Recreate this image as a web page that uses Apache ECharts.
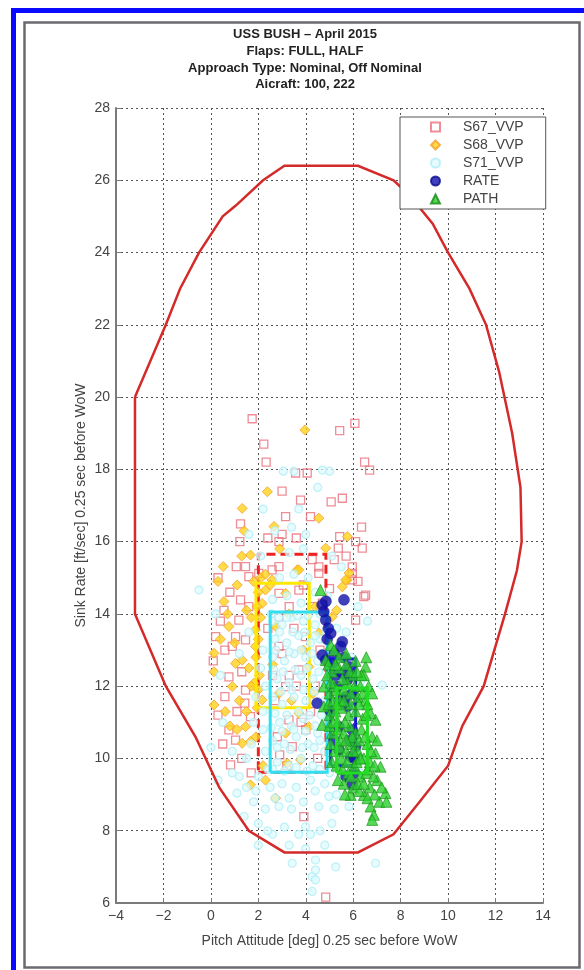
<!DOCTYPE html>
<html>
<head>
<meta charset="utf-8">
<script src="https://cdn.jsdelivr.net/npm/echarts@6/dist/echarts.min.js"></script>
<style>
html,body{margin:0;padding:0;background:#fff;}
#chart{width:584px;height:970px;}
</style>
</head>
<body>
<div id="chart"></div>
<script>
// ---- Data ----
const titleLines = ['USS BUSH \u2013 April 2015', 'Flaps: FULL, HALF', 'Approach Type: Nominal, Off Nominal', 'Aicraft: 100, 222'];
const xName = 'Pitch Attitude [deg] 0.25 sec before WoW';
const yName = 'Sink Rate [ft/sec] 0.25 sec before WoW';
const xRange = [-4, 14, 2];
const yRange = [6, 28, 2];
const seriesNames = ['S67_VVP', 'S68_VVP', 'S71_VVP', 'RATE', 'PATH'];

const s67 = [[1.74,19.4],[2.23,18.7],[2.33,18.2],[3.57,17.9],[4.06,17.9],[5.43,19.07],[6.07,19.27],[6.48,18.2],[6.69,17.98],[3.0,17.4],[3.78,17.15],[5.07,17.1],[5.54,17.2],[1.25,16.49],[1.22,16.0],[2.87,16.0],[4.2,16.69],[3.15,16.69],[5.43,16.14],[6.35,16.4],[6.38,15.82],[5.37,15.82],[1.07,15.31],[1.46,15.31],[1.6,15.03],[0.55,14.1],[1.25,14.39],[6.45,14.48],[2.87,15.31],[4.27,15.5],[4.55,15.12],[5.96,15.12],[0.2,13.37],[0.59,13.0],[1.04,13.37],[1.46,13.28],[0.76,12.26],[0.59,11.71],[1.46,11.89],[1.43,11.53],[1.67,11.16],[0.76,10.79],[1.04,10.51],[0.83,9.82],[3.92,8.39],[6.52,14.52],[6.1,13.83],[1.18,13.83],[3.15,11.99],[2.87,13.1],[3.71,12.45],[3.29,11.07],[3.43,10.33],[3.99,13.37],[2.87,13.92],[4.27,14.2],[3.71,14.66],[2.87,14.57],[2.02,15.12],[2.58,15.22],[4.55,15.3],[5.96,15.3],[5.96,14.94],[4.84,6.16],[3.0,12.9],[3.5,13.6],[2.7,11.6],[4.0,10.8],[3.3,12.3],[4.4,12.0],[2.9,10.1],[3.8,11.0],[0.1,12.7],[0.3,11.2],
  [0.3,15.0],[0.8,14.6],[0.4,13.8],[1.6,14.2],[0.9,13.1],[1.3,12.4],[1.1,11.3],[0.5,10.4],[1.3,10.0],[1.7,9.6],[2.6,12.3],[3.6,12.0],[4.2,11.3],[2.8,10.6],[3.2,9.8],[4.5,10.0],[3.9,14.8],[3.3,14.2],[2.4,13.6],[4.6,13.0],[3.0,16.2],[2.4,16.1],[3.6,16.1],[4.7,14.3],[5.2,15.5],[6.1,16.0],[5.7,15.6],[6.2,14.9],[5.0,14.7]];

const s68 = [[3.96,19.09],[2.38,17.38],[1.32,16.92],[2.66,16.42],[4.55,16.65],[5.75,16.14],[4.84,15.82],[0.52,15.31],[1.67,15.63],[1.11,14.8],[0.55,14.34],[5.75,14.94],[5.54,14.75],[3.64,15.22],[0.76,13.65],[0.13,12.91],[0.13,12.4],[0.9,11.99],[0.13,11.48],[1.04,12.63],[1.32,12.72],[1.46,10.88],[1.32,10.42],[1.67,10.47],[1.67,9.27],[2.73,8.9],[3.22,9.87],[3.78,9.96],[1.88,13.56],[1.88,13.1],[1.81,12.08],[2.16,11.62],[2.73,13.65],[2.87,11.8],[3.71,11.25],[3.15,10.7],[4.13,12.54],[4.13,10.88],[5.68,14.94],[5.11,13.92],[4.55,13.47],[2.58,14.94],[3.71,15.22],[2.3,14.66],[3.15,14.57],[2.16,14.29],[2.0,14.6],[1.95,14.2],[2.1,13.9],[2.0,13.3],[1.9,12.8],[2.05,12.3],[2.0,11.9],[1.95,11.4],[2.1,15.0],[2.3,15.1],[2.5,14.8],[1.8,14.9],[1.7,13.9],[1.6,12.5],[1.5,14.1],[5.82,15.13],[5.3,14.1],
  [0.3,14.9],[0.7,14.0],[1.0,13.2],[0.4,13.3],[1.2,11.6],[0.6,11.3],[1.7,12.0],[1.5,11.3],[1.1,10.8],[0.8,10.9],[1.9,10.6],[2.2,9.8],[1.3,15.6],[2.9,15.8],[3.3,14.0],[2.6,12.6],[3.4,11.6],[4.3,11.8],[3.9,13.0],[4.4,14.2],[2.3,9.4],[1.4,16.3]];

const s71 = [[2.6,13.8],[3.0,13.7],[3.4,13.9],[3.9,13.8],[4.4,13.7],[4.8,13.9],[2.7,13.3],[3.2,13.2],[3.7,13.4],[4.2,13.2],[4.6,13.3],[2.6,12.8],[3.1,12.7],[3.5,12.9],[4.0,12.8],[4.5,12.7],[2.8,12.2],[3.3,12.1],[3.8,12.3],[4.3,12.2],[4.8,12.1],[2.6,11.7],[3.0,11.5],[3.5,11.7],[4.0,11.6],[4.5,11.5],[2.9,11.0],[3.4,10.9],[3.9,11.1],[4.4,10.9],[4.8,11.0],[2.6,10.5],[3.1,10.4],[3.6,10.6],[4.1,10.4],[4.6,10.5],[2.8,9.9],[3.3,9.8],[3.8,10.0],[4.3,9.8],[1.6,13.5],[1.2,12.9],[2.2,13.0],[2.3,12.0],[1.8,11.0],[2.2,10.8],[1.5,10.0],[2.0,9.5],[2.3,10.2],[0.5,11.0],[0.9,10.2],[1.2,9.5],[1.1,9.04],[2.0,8.2],[2.87,8.67],[4.55,8.67],[4.97,8.95],[5.82,8.67],[3.99,8.11],[4.41,7.19],[6.94,7.1],[4.27,6.73],[4.41,6.91],[4.41,6.64],[4.27,6.32],[5.26,7.0],[3.43,7.1],[2.5,9.2],[3.0,9.3],[3.6,9.2],[4.2,9.4],[4.8,9.3],[5.3,9.0],[2.3,8.6],[3.4,8.6],[3.7,7.9],[4.6,8.0],[5.1,8.2],[2.6,7.9],[3.1,8.1],[4.0,7.5],[4.8,7.6],[1.4,8.4],[2.0,7.6],[5.6,9.5],[2.6,14.4],[3.2,14.5],[3.8,14.3],[4.4,14.6],[2.9,15.0],[3.5,15.1],[4.1,15.0],[3.3,15.7],[3.9,15.8],[2.7,16.3],[3.4,16.4],[4.0,16.2],[3.7,16.9],[3.05,17.95],[3.5,17.95],[4.7,17.98],[5.0,17.95],[4.5,17.5],[2.2,16.9],[1.6,16.2],[2.1,15.6],[5.1,15.6],[5.5,15.3],[4.9,14.5],[5.3,13.6],[5.7,13.5],[5.9,12.8],[6.3,12.1],[7.22,12.03],[6.0,11.2],[5.5,10.0],[6.3,9.6],[6.6,13.8],[6.2,14.2],[-0.5,14.66],[0.2,14.0],[0.4,12.3],[0.0,10.3],[0.3,9.4],
  [2.55,14.0],[2.85,13.9],[3.2,13.9],[3.65,13.95],[4.1,13.95],[4.6,14.0],[2.9,13.5],[3.45,13.5],[3.95,13.5],[4.4,13.4],[4.85,13.5],[2.75,13.0],[3.3,12.95],[3.8,13.0],[4.25,12.9],[4.75,12.9],[2.65,12.45],[3.05,12.4],[3.55,12.45],[4.05,12.5],[4.55,12.4],[2.95,11.85],[3.4,11.9],[3.9,11.9],[4.35,11.85],[4.8,11.6],[2.7,11.25],[3.2,11.2],[3.7,11.3],[4.15,11.2],[4.65,11.2],[2.55,10.85],[3.0,10.75],[3.5,10.8],[4.0,10.75],[4.5,10.7],[2.8,10.3],[3.35,10.25],[3.85,10.3],[4.35,10.3],[4.8,10.2],[2.6,9.7],[3.1,9.65],[3.6,9.75],[4.05,9.65],[4.6,9.7],[2.1,12.5],[1.9,11.7],[2.2,11.3],[1.7,10.4],[2.4,9.7],[1.9,9.1],[2.7,8.9],[3.3,8.9],[3.9,8.8],[4.4,9.1],[5.0,9.6],[5.2,8.6],[2.4,8.0],[3.3,7.6],[4.2,7.9],[1.8,8.8],[0.9,9.6],[1.5,9.2]];

const rate = [[5.61,14.39],[4.69,14.25],[4.76,14.06],[4.84,13.83],[4.95,13.6],[5.05,13.46],[5.54,13.23],[5.47,13.1],[4.69,12.86],[4.84,12.72],[5.11,12.63],[5.82,12.54],[5.54,12.36],[5.75,12.17],[5.96,11.8],[4.48,11.53],[5.05,11.3],[5.75,11.44],[5.19,10.51],[5.4,10.88],[5.96,10.79],[6.1,10.33],[5.89,10.05],[6.03,9.59],[5.96,9.27],[5.33,11.99],[5.68,11.71],[5.4,10.24],
  [4.85,14.35],[4.9,13.3],[5.2,12.9],[5.6,12.8],[5.25,12.3],[5.9,12.3],[5.4,11.6],[5.85,10.5],[6.05,10.0],[5.7,9.5]];

const path = [[4.62,14.66],[6.52,12.54],[6.45,12.31],[5.89,8.99],[6.45,8.99],[7.01,9.4],[7.36,9.04],[6.73,8.67],[6.87,8.44],[7.15,9.77],[6.94,10.14],[6.8,10.6],[6.94,11.07],[6.73,11.25],[4.69,10.93],[4.76,11.44],[4.76,11.99],[4.84,12.72],[5.05,13.14],[5.19,13.0],[5.1,12.4],[5.4,12.5],[5.7,12.6],[6.0,12.3],[6.3,12.0],[5.0,11.8],[5.3,11.9],[5.6,11.9],[5.9,11.8],[6.2,11.7],[6.5,11.6],[5.0,11.2],[5.25,11.3],[5.5,11.4],[5.8,11.2],[6.1,11.3],[6.4,11.1],[6.6,11.5],[5.1,10.7],[5.35,10.8],[5.6,10.7],[5.85,10.9],[6.1,10.7],[6.35,10.8],[6.6,10.4],[5.2,10.2],[5.45,10.3],[5.7,10.2],[5.95,10.4],[6.2,10.2],[6.45,10.0],[6.7,9.9],[5.3,9.8],[5.55,9.7],[5.8,9.6],[6.05,9.8],[6.3,9.5],[6.55,9.6],[6.85,9.5],[5.6,9.3],[6.0,9.2],[6.25,9.1],[6.7,9.2],[7.1,8.8],[6.9,9.0],[5.2,12.0],[5.45,11.6],[5.75,12.1],[6.05,12.0],[6.35,12.3],[5.35,11.0],[5.65,11.0],[5.95,10.6],[6.25,10.5],[5.5,10.0],[5.75,9.9],[6.15,9.9],[6.5,10.6],[6.75,10.2],[4.9,12.3],[4.95,11.5],[5.15,11.6],[5.4,12.8],[5.7,12.9],
  [4.95,12.6],[5.05,12.1],[5.0,10.9],[5.05,10.4],[5.1,9.9],[5.25,12.6],[5.55,12.2],[5.85,12.4],[6.15,12.4],[6.4,11.8],[6.65,12.0],[6.8,11.8],[6.55,11.2],[6.25,11.5],[5.9,11.5],[5.6,11.6],[5.3,11.5],[5.15,11.0],[5.45,10.5],[5.7,10.5],[6.0,10.2],[6.3,10.0],[6.6,9.7],[6.9,9.8],[7.0,10.5],[5.35,9.4],[5.65,9.0],[5.9,9.5],[6.2,9.3],[6.45,9.3],[6.6,8.9],[7.2,9.2],[7.4,8.8],[6.8,8.3],[6.1,12.7],[6.55,12.8]];

// envelope polygon
const envelope = [[-3.2,20],[-1.9,22],[-1.3,23],[-0.5,24],[0.5,25],[1.05,25.3],[2.2,26],[3.1,26.4],[6.2,26.4],[7.7,26],[8.35,25.6],[9.35,24.8],[10.0,24],[10.9,23],[11.6,22],[12.15,20.7],[12.7,19],[13.05,17.5],[13.1,16],[12.9,15.2],[12.4,14],[11.5,12],[10.6,10.9],[10.0,9.8],[8.8,8.8],[7.7,7.9],[6.2,7.4],[3.1,7.4],[1.6,8.0],[0.35,9.2],[-0.65,10.6],[-1.9,12],[-3.2,14],[-3.2,20]];

// boxes [xmin, xmax, ymin, ymax]
const boxS67 = [2.0, 4.85, 9.62, 15.65];
const boxS68 = [1.9, 4.15, 11.4, 14.85];
const boxS71 = [2.5, 4.9, 9.62, 14.05];
const boxRATE = [5.05, 6.1, 9.8, 12.75];
const boxPATH = [5.3, 6.6, 9.6, 11.95];

// ---- Build chart ----
function boxPts(b){ return [[b[0],b[2]],[b[1],b[2]],[b[1],b[3]],[b[0],b[3]],[b[0],b[2]]]; }
function lineSeries(data, color, width, type, z){
  return {type:'line', data:data, symbol:'none', smooth:false, silent:true,
    lineStyle:{color:color, width:width, type:type||'solid', cap:'butt', join:'miter'}, z:z};
}
const FONT = 'Liberation Sans, Arial, sans-serif';
const chart = echarts.init(document.getElementById('chart'), null, {renderer:'canvas'});
const minus = v => String(v).replace('-', '\u2212');

const graphics = [
  {type:'rect', shape:{x:13.5, y:10.5, width:600, height:1000}, style:{fill:'#fff', stroke:'#0a0aff', lineWidth:5}, z:-10, silent:true},
  {type:'rect', shape:{x:24.5, y:22.5, width:555, height:945}, style:{fill:'#fff', stroke:'#6a6a70', lineWidth:2.5}, z:-9, silent:true}
];
const titleY = [34, 51, 68, 84];
titleLines.forEach((t,i)=>{
  graphics.push({type:'text', x:305, y:titleY[i], style:{text:t, font:'bold 13px '+FONT, fill:'#222', textAlign:'center', textVerticalAlign:'middle'}, z:5});
});

const option = {
  animation:false,
  backgroundColor:'transparent',
  graphic:graphics,
  grid:{left:116, right:41, top:108, bottom:67},
  legend:{
    data:seriesNames, orient:'vertical', left:400, top:117,
    backgroundColor:'#fff', borderColor:'#555', borderWidth:1, borderRadius:0,
    padding:[3,22,3,30], itemGap:4, itemWidth:9, itemHeight:9,
    textStyle:{fontFamily:FONT, fontSize:14, color:'#444', padding:[0,0,0,18]},
    selectedMode:false, z:30
  },
  xAxis:{type:'value', min:xRange[0], max:xRange[1], interval:xRange[2],
    name:xName, nameLocation:'middle', nameGap:31, nameMoveOverlap:false,
    nameTextStyle:{fontFamily:FONT, fontSize:14, color:'#444'},
    axisLine:{show:true, onZero:false, lineStyle:{color:'#7a7a7a', width:2}},
    axisTick:{show:true, inside:true, length:5, lineStyle:{color:'#7a7a7a'}},
    axisLabel:{fontFamily:FONT, fontSize:14, color:'#444', margin:6, formatter:minus},
    splitLine:{show:true, lineStyle:{color:'#555', width:1, type:[2,3]}}
  },
  yAxis:{type:'value', min:yRange[0], max:yRange[1], interval:yRange[2],
    name:yName, nameLocation:'middle', nameGap:28, nameRotate:90, nameMoveOverlap:false,
    nameTextStyle:{fontFamily:FONT, fontSize:14, color:'#444'},
    axisLine:{show:true, onZero:false, lineStyle:{color:'#7a7a7a', width:2}},
    axisTick:{show:true, inside:true, length:5, lineStyle:{color:'#7a7a7a'}},
    axisLabel:{fontFamily:FONT, fontSize:14, color:'#444', margin:6},
    splitLine:{show:true, lineStyle:{color:'#555', width:1, type:[2,3]}}
  },
  series:[
    {name:'S67_VVP', type:'scatter', data:s67, symbol:'rect', symbolSize:8,
      itemStyle:{color:'rgba(255,255,255,0)', borderColor:'#e8707a', borderWidth:1.3}, z:3},
    lineSeries(boxPts(boxS67), '#ee2020', 3, [9,5], 4),
    {name:'S68_VVP', type:'scatter', data:s68, symbol:'diamond', symbolSize:10,
      itemStyle:{color:'#ffd21a', borderColor:'#f5a030', borderWidth:1}, z:5},
    lineSeries(boxPts(boxS68), '#ffe800', 3, 'solid', 6),
    {name:'S71_VVP', type:'scatter', data:s71, symbol:'circle', symbolSize:8,
      itemStyle:{color:'rgba(222,251,253,0.9)', borderColor:'#aeeef5', borderWidth:1.2}, z:7},
    lineSeries(boxPts(boxS71), '#30e0f0', 3, 'solid', 8),
    {name:'RATE', type:'scatter', data:rate, symbol:'circle', symbolSize:11,
      itemStyle:{color:'#1010aa', borderColor:'#0a0a90', borderWidth:0.5}, z:9},
    lineSeries(boxPts(boxRATE), '#1414d8', 3, 'solid', 10),
    {name:'PATH', type:'scatter', data:path, symbol:'triangle', symbolSize:11,
      itemStyle:{color:'#2cd02c', borderColor:'#138a13', borderWidth:0.8}, z:11},
    lineSeries(boxPts(boxPATH), '#22dd22', 3, 'solid', 12),
    lineSeries(envelope, '#d42a2a', 2.5, 'solid', 13)
  ]
};
chart.setOption(option);
</script>
</body>
</html>
